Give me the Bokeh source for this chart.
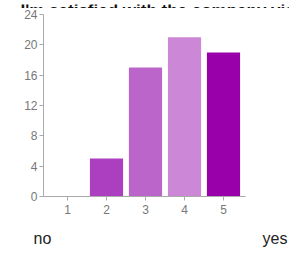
from bokeh.plotting import figure
from bokeh.models import Range1d, FixedTicker
from bokeh.layouts import column
from bokeh.core.properties import value
from bokeh.embed import file_html
from bokeh.resources import INLINE

title_text = "I'm satisfied with the company vision"
ratings = [1, 2, 3, 4, 5]
counts = [0, 5, 17, 21, 19]
bar_colors = ["#d9a6e0", "#ab3fc0", "#bb64ca", "#cc88d6", "#9a00aa"]
y_ticks = [0, 4, 8, 12, 16, 20, 24]
scale_labels = ["no", "yes"]

FONT = "Liberation Sans"
W = 289


def strip(fig):
    fig.outline_line_color = None
    fig.xgrid.grid_line_color = None
    fig.ygrid.grid_line_color = None
    return fig


# top strip: the chart title, cut at the top of the page as in the reference
top = strip(figure(width=W, height=8, output_backend="svg", toolbar_location=None,
                   x_range=Range1d(0, W), y_range=Range1d(0, 8),
                   x_axis_location=None, y_axis_location=None,
                   min_border=0, frame_align=False))
top.text(x=[20], y=[2], text=[title_text], text_font=value(FONT),
         text_font_size="17px", text_font_style="bold", text_color="#111111",
         text_baseline="alphabetic", text_align="left")

# main bar chart
p = strip(figure(width=W, height=216, output_backend="svg", toolbar_location=None,
                 x_range=Range1d(0.385, 5.564), y_range=Range1d(0, 24),
                 min_border_left=43, min_border_right=44, min_border_top=6,
                 min_border_bottom=28, frame_align=False))
p.vbar(x=ratings, top=counts, width=0.85, color=bar_colors, line_color=None)

for ax in (p.xaxis[0], p.yaxis[0]):
    ax.axis_line_color = "#aaaaaa"
    ax.major_tick_line_color = "#aaaaaa"
    ax.minor_tick_line_color = None
    ax.major_tick_out = 4
    ax.major_tick_in = 0
    ax.major_label_text_font = FONT
    ax.major_label_text_font_size = "12px"
    ax.major_label_text_color = "#777777"

p.xaxis.ticker = FixedTicker(ticks=ratings)
p.yaxis.ticker = FixedTicker(ticks=y_ticks)
p.yaxis.major_label_standoff = 2
p.xaxis.major_label_standoff = 4

# bottom strip: scale end labels
bot = strip(figure(width=W, height=28, output_backend="svg", toolbar_location=None,
                   x_range=Range1d(0, W), y_range=Range1d(0, 28),
                   x_axis_location=None, y_axis_location=None,
                   min_border=0, frame_align=False))
bot.text(x=[33, 287], y=[14, 14], text=scale_labels, text_font=value(FONT),
         text_font_size="16px", text_color="#222222",
         text_baseline="middle", text_align=["left", "right"])

layout = column(top, p, bot, spacing=0)
open("out.html", "w").write(file_html(layout, INLINE))
